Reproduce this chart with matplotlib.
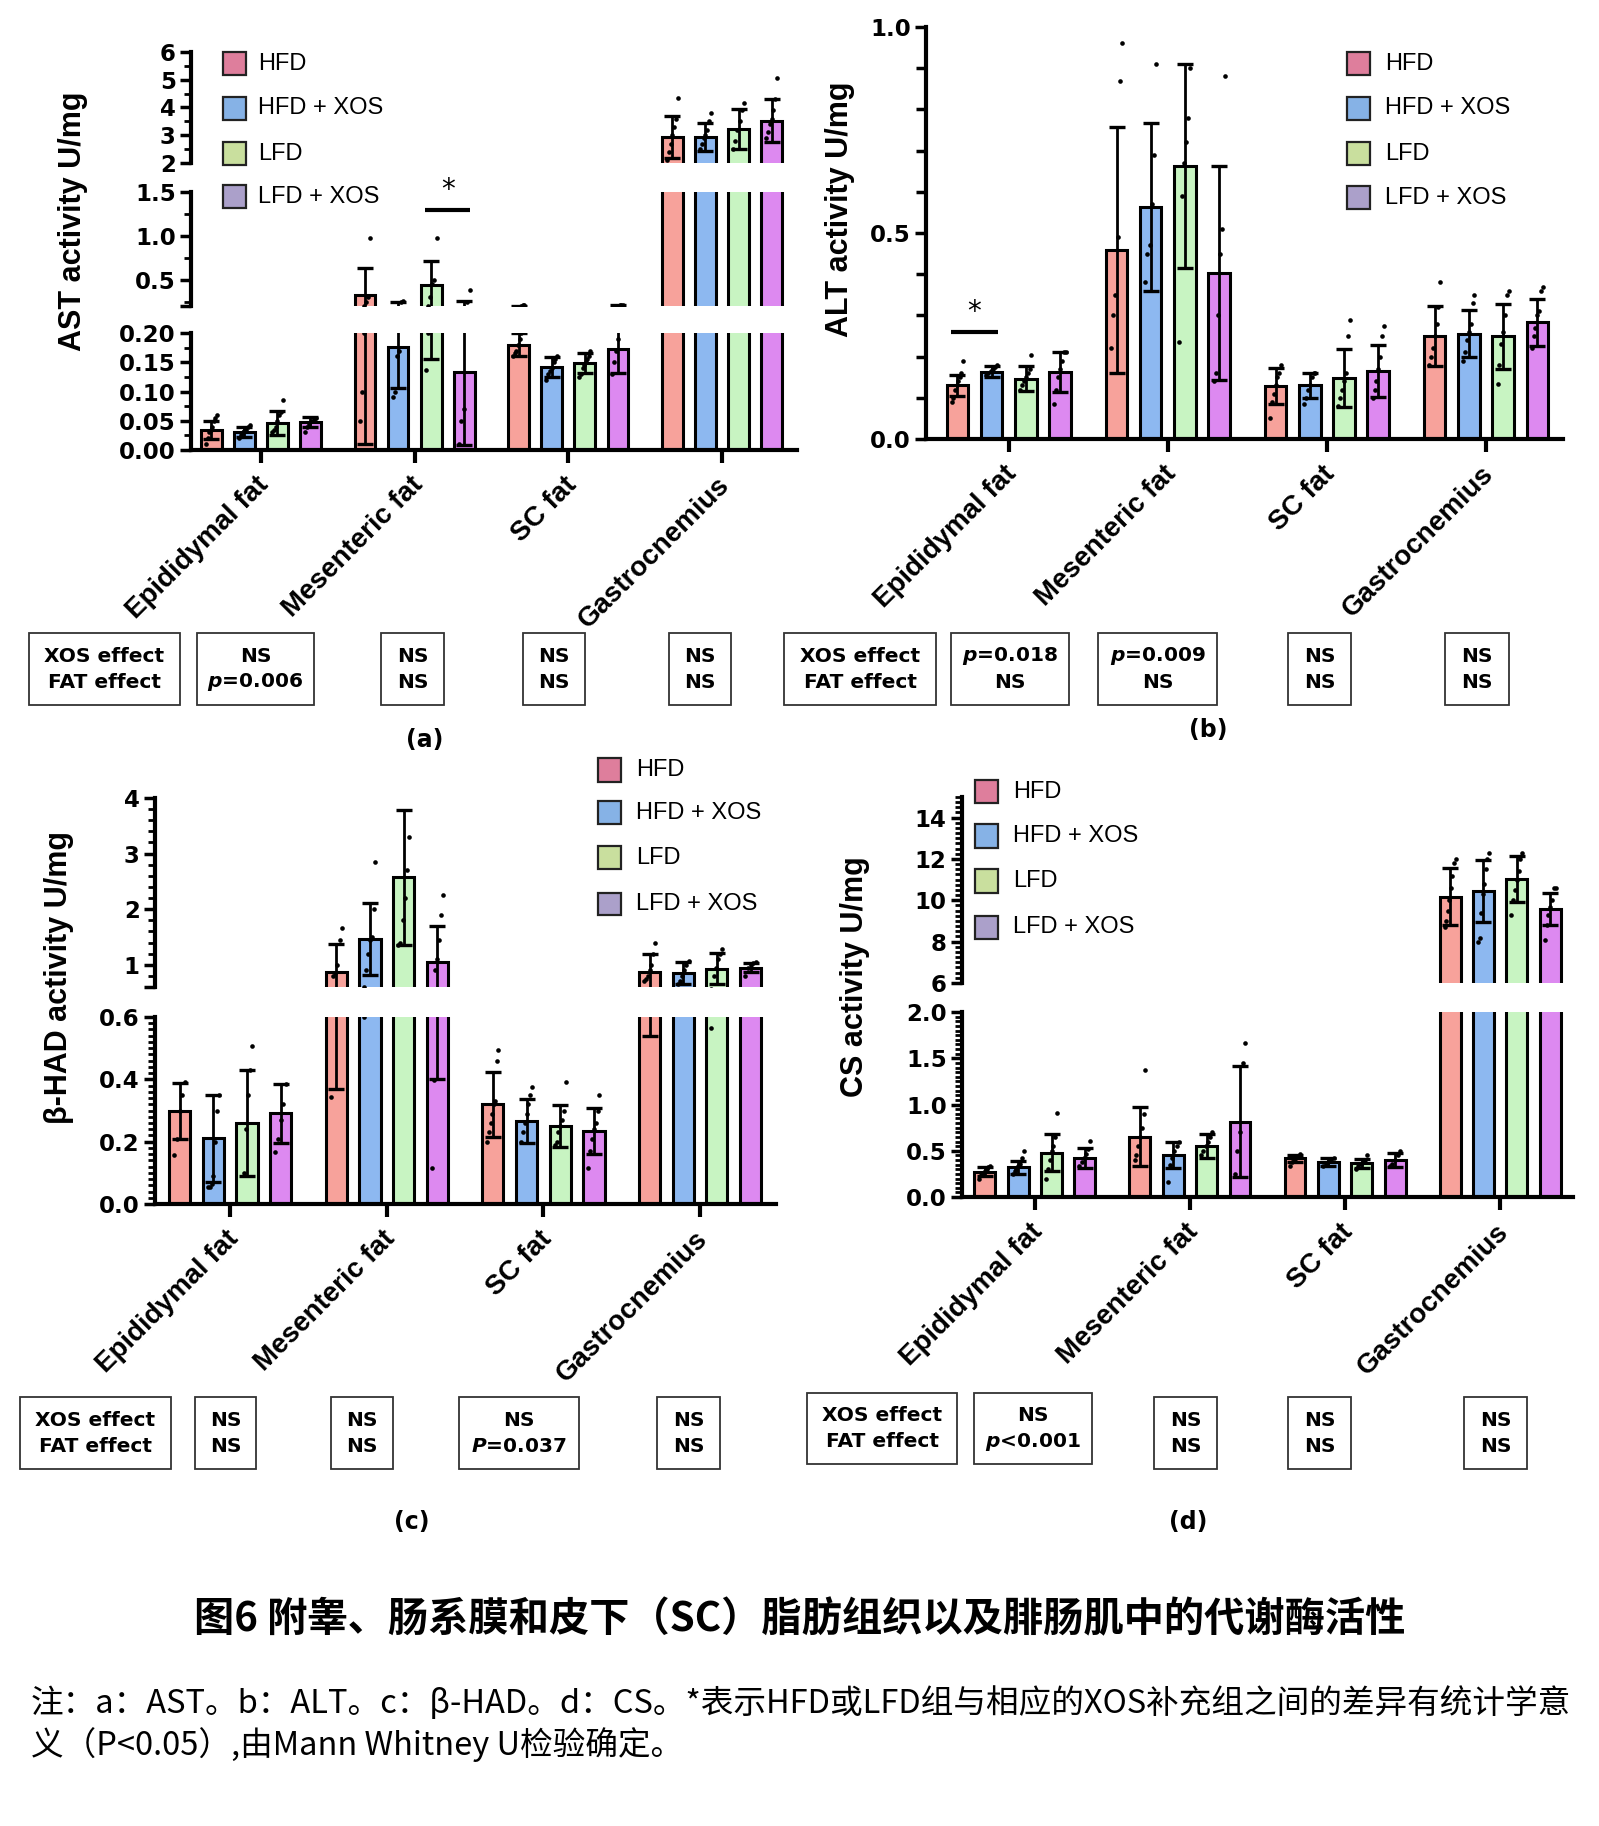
import numpy as np
import matplotlib
matplotlib.use('Agg')
import matplotlib.pyplot as plt
from matplotlib.patches import Rectangle
from matplotlib.transforms import ScaledTranslation

plt.rcParams['mathtext.fontset'] = 'custom'
plt.rcParams['mathtext.it'] = 'DejaVu Sans:italic:bold'
plt.rcParams['mathtext.rm'] = 'DejaVu Sans:bold'

W, H = 1599, 1826

tissues = ['Epididymal fat', 'Mesenteric fat', 'SC fat', 'Gastrocnemius']
groups = ['HFD', 'HFD + XOS', 'LFD', 'LFD + XOS']
bar_colors = ['#F7A29B', '#8DB8F0', '#C8F4C2', '#DD89F0']
legend_colors = ['#DE7E9C', '#86B2E6', '#C9DF9E', '#ABA0CA']

# ---- (a) AST, rows = groups, cols = tissues
ast_mean = [[0.034, 0.32, 0.18, 2.93],
            [0.031, 0.176, 0.142, 2.93],
            [0.046, 0.435, 0.148, 3.21],
            [0.048, 0.134, 0.172, 3.52]]
ast_sd = [[0.015, 0.31, 0.02, 0.75],
          [0.008, 0.07, 0.017, 0.5],
          [0.02, 0.28, 0.017, 0.72],
          [0.008, 0.125, 0.04, 0.78]]
ast_pts = [[[0.01, 0.02, 0.03, 0.035, 0.04, 0.05, 0.055, 0.06], [0.05, 0.1, 0.2, 0.25, 0.3, 0.97],
            [0.16, 0.165, 0.17, 0.18, 0.19, 0.2, 0.21, 0.215], [2.1, 2.4, 2.7, 3.0, 3.3, 3.6, 4.35]],
           [[0.02, 0.025, 0.03, 0.032, 0.035, 0.04, 0.042], [0.09, 0.1, 0.16, 0.17, 0.25, 0.26],
            [0.12, 0.13, 0.135, 0.14, 0.15, 0.155, 0.16], [2.5, 2.7, 2.9, 3.0, 3.2, 3.5, 3.8]],
           [[0.03, 0.035, 0.04, 0.05, 0.06, 0.065, 0.085], [0.137, 0.2, 0.3, 0.45, 0.5, 0.97],
            [0.125, 0.13, 0.14, 0.145, 0.15, 0.155, 0.16, 0.17], [2.5, 2.8, 3.2, 3.5, 3.9, 4.15]],
           [[0.03, 0.04, 0.045, 0.05, 0.052, 0.055], [0.01, 0.05, 0.07, 0.25, 0.38],
            [0.13, 0.15, 0.17, 0.19, 0.21, 0.21, 0.215], [2.9, 3.1, 3.4, 3.6, 3.9, 4.3, 5.05]]]
ast_stats = [('NS', '$\\mathit{p}$=0.006'), ('NS', 'NS'), ('NS', 'NS'), ('NS', 'NS')]

# ---- (b) ALT
alt_mean = [[0.130, 0.459, 0.128, 0.249],
            [0.163, 0.563, 0.130, 0.255],
            [0.146, 0.662, 0.148, 0.249],
            [0.163, 0.403, 0.166, 0.283]]
alt_sd = [[0.026, 0.298, 0.044, 0.073],
          [0.013, 0.204, 0.03, 0.057],
          [0.03, 0.247, 0.07, 0.079],
          [0.048, 0.259, 0.063, 0.057]]
alt_pts = [[[0.09, 0.1, 0.12, 0.13, 0.14, 0.15, 0.16, 0.19], [0.22, 0.3, 0.35, 0.49, 0.87, 0.96],
            [0.05, 0.09, 0.11, 0.13, 0.15, 0.16, 0.18], [0.18, 0.2, 0.22, 0.25, 0.28, 0.32, 0.38]],
           [[0.155, 0.16, 0.165, 0.17, 0.175, 0.18], [0.38, 0.45, 0.47, 0.57, 0.69, 0.91],
            [0.085, 0.1, 0.12, 0.13, 0.15, 0.16, 0.16], [0.19, 0.21, 0.24, 0.26, 0.28, 0.33, 0.35]],
           [[0.12, 0.13, 0.14, 0.15, 0.16, 0.17, 0.205], [0.235, 0.59, 0.67, 0.72, 0.78, 0.9],
            [0.08, 0.1, 0.12, 0.14, 0.16, 0.25, 0.29], [0.133, 0.18, 0.23, 0.26, 0.3, 0.35, 0.36]],
           [[0.085, 0.12, 0.15, 0.17, 0.19, 0.21, 0.21], [0.14, 0.16, 0.3, 0.45, 0.51, 0.88],
            [0.1, 0.12, 0.14, 0.17, 0.2, 0.25, 0.275], [0.22, 0.25, 0.27, 0.3, 0.31, 0.36, 0.37]]]
alt_stats = [('$\\mathit{p}$=0.018', 'NS'), ('$\\mathit{p}$=0.009', 'NS'), ('NS', 'NS'), ('NS', 'NS')]

# ---- (c) beta-HAD
had_mean = [[0.298, 0.87, 0.32, 0.87],
            [0.211, 1.46, 0.267, 0.85],
            [0.261, 2.57, 0.25, 0.93],
            [0.291, 1.05, 0.235, 0.95]]
had_sd = [[0.09, 0.5, 0.105, 0.33],
          [0.14, 0.65, 0.07, 0.2],
          [0.17, 1.22, 0.068, 0.28],
          [0.095, 0.65, 0.073, 0.08]]
had_pts = [[[0.157, 0.21, 0.3, 0.35, 0.39], [0.344, 0.8, 0.85, 1.0, 1.45, 1.67],
            [0.2, 0.23, 0.26, 0.29, 0.32, 0.33, 0.46, 0.494], [0.7, 0.75, 0.8, 0.9, 1.0, 1.2, 1.4]],
           [[0.055, 0.055, 0.065, 0.09, 0.2, 0.3, 0.35], [0.6, 0.9, 1.2, 1.45, 1.5, 2.0, 2.85],
            [0.2, 0.23, 0.26, 0.29, 0.32, 0.35, 0.376], [0.65, 0.7, 0.8, 0.9, 1.0, 1.06]],
           [[0.0, 0.1, 0.24, 0.35, 0.43, 0.508], [1.35, 1.4, 1.8, 2.2, 2.7, 3.3],
            [0.19, 0.2, 0.23, 0.25, 0.27, 0.3, 0.392], [0.565, 0.8, 0.95, 1.1, 1.2, 1.29]],
           [[0.168, 0.21, 0.27, 0.32, 0.385], [0.115, 0.398, 0.9, 1.1, 1.45, 1.9, 2.25],
            [0.114, 0.17, 0.21, 0.24, 0.26, 0.3, 0.35], [0.8, 0.95, 1.0, 1.03, 1.05]]]
had_stats = [('NS', 'NS'), ('NS', 'NS'), ('NS', '$\\mathit{P}$=0.037'), ('NS', 'NS')]

# ---- (d) CS
cs_mean = [[0.274, 0.652, 0.418, 10.18],
           [0.32, 0.454, 0.38, 10.43],
           [0.48, 0.555, 0.364, 11.03],
           [0.425, 0.814, 0.4, 9.57]]
cs_sd = [[0.05, 0.32, 0.04, 1.38],
         [0.07, 0.14, 0.04, 1.5],
         [0.2, 0.13, 0.05, 1.1],
         [0.11, 0.6, 0.08, 0.78]]
cs_pts = [[[0.2, 0.24, 0.26, 0.28, 0.3, 0.32, 0.34], [0.4, 0.45, 0.55, 0.65, 0.75, 0.9, 1.37],
           [0.34, 0.38, 0.4, 0.42, 0.44, 0.46], [8.7, 9.0, 9.5, 10.0, 10.6, 11.2, 11.8, 12.0]],
          [[0.25, 0.28, 0.3, 0.33, 0.36, 0.42, 0.5], [0.166, 0.35, 0.42, 0.5, 0.55, 0.6],
           [0.34, 0.36, 0.38, 0.4, 0.42], [8.0, 8.2, 9.4, 10.3, 10.8, 11.5, 12.0, 12.3]],
          [[0.2, 0.3, 0.4, 0.5, 0.55, 0.65, 0.905], [0.45, 0.5, 0.55, 0.6, 0.65, 0.7],
           [0.3, 0.33, 0.36, 0.38, 0.4, 0.45], [9.3, 10.0, 10.5, 11.0, 11.4, 12.0, 12.3]],
          [[0.33, 0.38, 0.42, 0.46, 0.52, 0.61], [0.25, 0.5, 0.7, 1.45, 1.67],
           [0.33, 0.36, 0.4, 0.45, 0.5], [8.1, 8.8, 9.3, 9.7, 10.0, 10.6, 10.6]]]
cs_stats = [('NS', '$\\mathit{p}$<0.001'), ('NS', 'NS'), ('NS', 'NS'), ('NS', 'NS')]

title = '图6 附睾、肠系膜和皮下（SC）脂肪组织以及腓肠肌中的代谢酶活性'
note1 = '注：a：AST。b：ALT。c：β-HAD。d：CS。*表示HFD或LFD组与相应的XOS补充组之间的差异有统计学意'
note2 = '义（P<0.05）,由Mann Whitney U检验确定。'

PITCH = 0.215
BW = 0.135

fig = plt.figure(figsize=(W / 100, H / 100), dpi=100)


def add_ax(left, right, top, bottom):
    return fig.add_axes([left / W, 1 - bottom / H, (right - left) / W, (bottom - top) / H])


def draw(ax, mean, sd, pts, xlim):
    for g in range(4):
        xs = np.arange(4) + (g - 1.5) * PITCH
        ax.bar(xs, mean[g], width=BW, color=bar_colors[g], edgecolor='black', linewidth=2.2, zorder=2)
        ax.errorbar(xs, mean[g], yerr=sd[g], fmt='none', ecolor='black', elinewidth=2,
                    capsize=6, capthick=2.4, zorder=3)
        for t in range(4):
            p = pts[g][t]
            off = np.linspace(-0.035, 0.035, len(p))
            ax.scatter(xs[t] + off, p, s=11, color='black', zorder=4, linewidths=0)
    ax.set_xlim(xlim)


def style(ax, ylim, major, labels, minor, bottom):
    ax.set_ylim(ylim)
    ax.set_yticks(major)
    ax.set_yticklabels(labels)
    ax.set_yticks(minor, minor=True)
    for s in ['top', 'right']:
        ax.spines[s].set_visible(False)
    ax.spines['left'].set_linewidth(3)
    if bottom:
        ax.spines['bottom'].set_linewidth(3)
        ax.set_xticks(range(4))
        ax.set_xticklabels([])
        ax.tick_params(axis='x', length=9, width=3)
    else:
        ax.spines['bottom'].set_visible(False)
        ax.set_xticks([])
    ax.tick_params(axis='y', which='major', length=8, width=2.5, labelsize=16.5, pad=3)
    ax.tick_params(axis='y', which='minor', length=5, width=2)
    for lab in ax.get_yticklabels():
        lab.set_fontweight('bold')
    ax.patch.set_alpha(0)


def xlabels(ax):
    off = ScaledTranslation(-0.05, -0.22, fig.dpi_scale_trans)
    for t, name in enumerate(tissues):
        ax.text(t, 0, name, transform=ax.get_xaxis_transform() + off, rotation=45,
                ha='right', va='top', rotation_mode='anchor', fontsize=20,
                fontweight='bold', family='Liberation Sans')


def legend(xb, ys, xt):
    for i, g in enumerate(groups):
        fig.add_artist(Rectangle((xb / W, 1 - (ys[i] + 11.5) / H), 23 / W, 23 / H,
                                 transform=fig.transFigure, facecolor=legend_colors[i],
                                 edgecolor='#222222', lw=1.6))
        fig.text(xt / W, 1 - ys[i] / H, g, fontsize=17, va='center', ha='left',
                 family='Liberation Sans')


def box(x0, x1, y0, y1, l1, l2):
    fig.add_artist(Rectangle((x0 / W, 1 - y1 / H), (x1 - x0) / W, (y1 - y0) / H,
                             transform=fig.transFigure, fill=False, edgecolor='#333333', lw=1.3))
    cx = (x0 + x1) / 2 / W
    cy = (y0 + y1) / 2
    fig.text(cx, 1 - (cy - 13) / H, l1, ha='center', va='center', fontsize=14.5, fontweight='bold')
    fig.text(cx, 1 - (cy + 13) / H, l2, ha='center', va='center', fontsize=14.5, fontweight='bold')


def ylabel(x, y, s):
    fig.text(x / W, 1 - y / H, s, rotation=90, ha='center', va='center', fontsize=22,
             fontweight='bold', family='Liberation Sans')


# ================= (a) AST
xl = (-0.455, 3.488)
a_top = add_ax(191, 797, 52, 163)
a_mid = add_ax(191, 797, 192, 306)
a_bot = add_ax(191, 797, 333, 450)
for ax in (a_top, a_mid, a_bot):
    draw(ax, ast_mean, ast_sd, ast_pts, xl)
style(a_top, (2, 6), [2, 3, 4, 5, 6], ['2', '3', '4', '5', '6'], np.arange(2, 6.01, 0.5), False)
style(a_mid, (0.2, 1.5), [0.2, 0.5, 1.0, 1.5], ['', '0.5', '1.0', '1.5'], np.arange(0.25, 1.51, 0.25), False)
style(a_bot, (0, 0.2), [0, 0.05, 0.10, 0.15, 0.20], ['0.00', '0.05', '0.10', '0.15', '0.20'],
      np.arange(0, 0.201, 0.025), True)
xlabels(a_bot)
xs1 = 1 + 0.5 * PITCH
xs2 = 1 + 1.5 * PITCH
a_mid.plot([xs1 - 0.04, xs2 + 0.04], [1.3, 1.3], color='black', lw=3, clip_on=False, solid_capstyle='butt')
a_mid.text((xs1 + xs2) / 2, 1.36, '*', ha='center', va='bottom', fontsize=20)
legend(223, [63.5, 108.5, 153.5, 197], 258)
ylabel(73, 221, 'AST activity U/mg')

# ================= (b) ALT
xl = (-0.52, 3.484)
b_ax = add_ax(926, 1563, 27, 439)
draw(b_ax, alt_mean, alt_sd, alt_pts, xl)
style(b_ax, (0, 1.0), [0, 0.5, 1.0], ['0.0', '0.5', '1.0'], np.arange(0, 1.01, 0.1), True)
b_ax.tick_params(axis='y', which='minor', length=7, width=2.5)
xlabels(b_ax)
xs1 = -1.5 * PITCH
xs2 = -0.5 * PITCH
b_ax.plot([xs1 - 0.04, xs2 + 0.04], [0.26, 0.26], color='black', lw=3, clip_on=False, solid_capstyle='butt')
b_ax.text((xs1 + xs2) / 2, 0.275, '*', ha='center', va='bottom', fontsize=20)
legend(1347, [63.5, 108.5, 154, 198], 1385)
ylabel(840, 209, 'ALT activity U/mg')

# ================= (c) beta-HAD
xl = (-0.48, 3.485)
c_top = add_ax(155, 776, 798, 987)
c_bot = add_ax(155, 776, 1017, 1204)
for ax in (c_top, c_bot):
    draw(ax, had_mean, had_sd, had_pts, xl)
style(c_top, (0.6, 4), [0.6, 1, 2, 3, 4], ['', '1', '2', '3', '4'], np.arange(0.6, 4.01, 0.2), False)
style(c_bot, (0, 0.6), [0, 0.2, 0.4, 0.6], ['0.0', '0.2', '0.4', '0.6'], np.arange(0, 0.601, 0.02), True)
xlabels(c_bot)
legend(598, [770, 813, 858, 904], 636)
ylabel(59, 977, 'β-HAD activity U/mg')

# ================= (d) CS
xl = (-0.47, 3.47)
d_top = add_ax(962, 1573, 797, 983)
d_bot = add_ax(962, 1573, 1012, 1197)
for ax in (d_top, d_bot):
    draw(ax, cs_mean, cs_sd, cs_pts, xl)
style(d_top, (6, 15), [6, 8, 10, 12, 14], ['6', '8', '10', '12', '14'], np.arange(6, 15.01, 0.25), False)
style(d_bot, (0, 2), [0, 0.5, 1.0, 1.5, 2.0], ['0.0', '0.5', '1.0', '1.5', '2.0'], np.arange(0, 2.001, 0.05), True)
xlabels(d_bot)
legend(975, [792, 836, 881, 927], 1013)
ylabel(855, 977, 'CS activity U/mg')

# ================= effect boxes
box(29, 180, 633, 705, 'XOS effect', 'FAT effect')
for (x0, x1), (l1, l2) in zip([(197, 314), (381, 444), (523, 585), (669, 731)], ast_stats):
    box(x0, x1, 633, 705, l1, l2)
box(784, 936, 633, 705, 'XOS effect', 'FAT effect')
for (x0, x1), (l1, l2) in zip([(951, 1069), (1098, 1217), (1288, 1351), (1445, 1509)], alt_stats):
    box(x0, x1, 633, 705, l1, l2)
box(20, 171, 1397, 1469, 'XOS effect', 'FAT effect')
for (x0, x1), (l1, l2) in zip([(195, 256), (331, 393), (459, 579), (657, 720)], had_stats):
    box(x0, x1, 1397, 1469, l1, l2)
box(807, 957, 1393, 1464, 'XOS effect', 'FAT effect')
for (x0, x1, y0, y1), (l1, l2) in zip([(974, 1092, 1393, 1464), (1154, 1217, 1397, 1469),
                                       (1288, 1351, 1397, 1469), (1464, 1527, 1397, 1469)], cs_stats):
    box(x0, x1, y0, y1, l1, l2)

# panel letters
for x, y, s in [(425, 740, '(a)'), (1208, 730, '(b)'), (412, 1522, '(c)'), (1188, 1522, '(d)')]:
    fig.text(x / W, 1 - y / H, s, ha='center', va='center', fontsize=17, fontweight='bold')

cjk = ['Noto Sans CJK SC', 'DejaVu Sans']
fig.text(800 / W, 1 - 1620 / H, title, ha='center', va='center', fontsize=29, family=cjk, fontweight='bold')
fig.text(31 / W, 1 - 1703 / H, note1, ha='left', va='center', fontsize=23.5, family=cjk)
fig.text(31 / W, 1 - 1745 / H, note2, ha='left', va='center', fontsize=23.5, family=cjk)

fig.savefig('out.png', dpi=100, facecolor='white')
